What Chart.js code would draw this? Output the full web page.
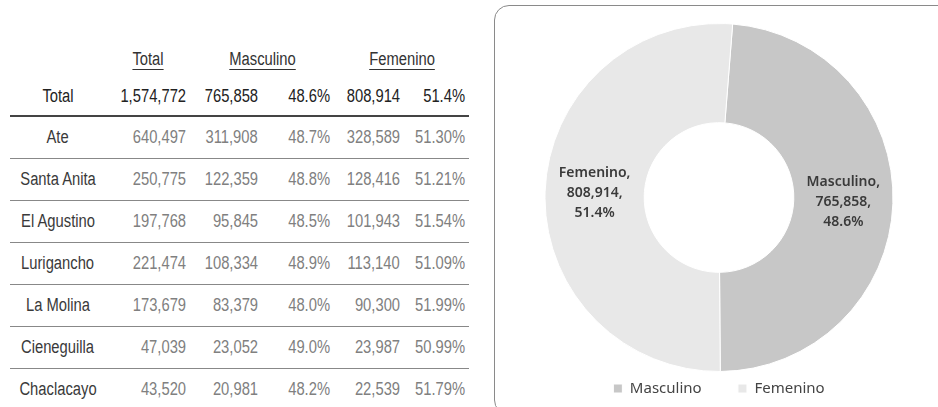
<!DOCTYPE html>
<html>
<head>
<meta charset="utf-8">
<script src="https://cdn.jsdelivr.net/npm/chart.js@4"></script>
<style>
  body { margin: 0; width: 938px; height: 407px; background: #fff; overflow: hidden; position: relative; }
  #tbl { position: absolute; left: 10px; top: 40px; border-collapse: collapse; table-layout: fixed;
         font-family: "Liberation Sans", Arial, sans-serif; font-size: 18px; color: #808080; }
  #tbl td { padding: 0 4px 0 0; text-align: right; white-space: nowrap; }
  #tbl td span { display: inline-block; transform: scaleX(0.82); transform-origin: right center; }
  #tbl td.lbl { text-align: center; color: #3a3a3a; padding: 0; }
  #tbl td.lbl span { transform-origin: center center; }
  #tbl tr.head td { height: 38px; text-align: center; color: #333; padding: 0; }
  #tbl tr.head span { transform-origin: center center; text-decoration: underline; text-underline-offset: 4px; }
  #tbl tr.total td { height: 37px; color: #222; border-bottom: 2px solid #444; }
  #tbl tr.row td { height: 41px; border-bottom: 1px solid #888; }
  #tbl tr.row:last-child td { border-bottom: none; }
  #box { position: absolute; left: 494px; top: 5px; width: 460px; height: 410px;
         border: 1.5px solid #8a8a8a; border-radius: 15px; box-sizing: border-box; }
  #wrap { position: absolute; left: 496px; top: 6px; width: 446px; height: 400px; }
</style>
</head>
<body>
<table id="tbl">
  <colgroup>
    <col style="width:96px"><col style="width:74px"><col style="width:72px">
    <col style="width:72px"><col style="width:70px"><col style="width:65px">
  </colgroup>
  <tbody id="tbody"></tbody>
</table>
<div id="box"></div>
<div id="wrap"><canvas id="donut"></canvas></div>
<script>
// --- table data ---
const districts = ["Ate", "Santa Anita", "El Agustino", "Lurigancho", "La Molina", "Cieneguilla", "Chaclacayo"];
const totals = ["640,497", "250,775", "197,768", "221,474", "173,679", "47,039", "43,520"];
const mascVals = ["311,908", "122,359", "95,845", "108,334", "83,379", "23,052", "20,981"];
const mascPcts = ["48.7%", "48.8%", "48.5%", "48.9%", "48.0%", "49.0%", "48.2%"];
const femVals = ["328,589", "128,416", "101,943", "113,140", "90,300", "23,987", "22,539"];
const femPcts = ["51.30%", "51.21%", "51.54%", "51.09%", "51.99%", "50.99%", "51.79%"];
const totalRow = ["Total", "1,574,772", "765,858", "48.6%", "808,914", "51.4%"];

// --- chart data ---
const categories = ["Masculino", "Femenino"];
const values = [765858, 808914];
const percents = ["48.6%", "51.4%"];
const colors = ["#c7c7c7", "#e8e8e8"];

const cell = (v, cls) => '<td' + (cls ? ' class="' + cls + '"' : '') + '><span>' + v + '</span></td>';

const tbody = document.getElementById("tbody");
let html = '<tr class="head"><td></td><td><span>Total</span></td>' +
  '<td colspan="2"><span>Masculino</span></td><td colspan="2"><span>Femenino</span></td></tr>';
html += '<tr class="total">' + cell(totalRow[0], "lbl") + totalRow.slice(1).map(v => cell(v)).join('') + '</tr>';
districts.forEach((d, i) => {
  html += '<tr class="row">' + cell(d, "lbl") + cell(totals[i]) + cell(mascVals[i]) + cell(mascPcts[i]) +
    cell(femVals[i]) + cell(femPcts[i]) + '</tr>';
});
tbody.innerHTML = html;

// draws "Name, value, pct" inside each slice
const sliceLabels = {
  id: "sliceLabels",
  afterDatasetsDraw(chart) {
    const ctx = chart.ctx;
    const meta = chart.getDatasetMeta(0);
    ctx.save();
    ctx.font = "600 14px 'Noto Sans', sans-serif";
    ctx.fillStyle = "#3a3a3a";
    ctx.textAlign = "center";
    ctx.textBaseline = "middle";
    meta.data.forEach((arc, i) => {
      const p = arc.tooltipPosition();
      const lines = [categories[i] + ",", values[i].toLocaleString("en-US") + ",", percents[i]];
      lines.forEach((t, k) => ctx.fillText(t, p.x, p.y + (k - 1) * 20));
    });
    ctx.restore();
  }
};

new Chart(document.getElementById("donut"), {
  type: "doughnut",
  data: {
    labels: categories,
    datasets: [{
      data: values,
      backgroundColor: colors,
      borderColor: "#ffffff",
      borderWidth: 1
    }]
  },
  options: {
    responsive: true,
    maintainAspectRatio: false,
    animation: false,
    rotation: 4.5,
    cutout: "43%",
    layout: { padding: { top: 17, bottom: 0, left: 0, right: 0 } },
    plugins: {
      legend: {
        position: "bottom",
        labels: {
          color: "#444",
          font: { family: "'Noto Sans', sans-serif", size: 15 },
          boxWidth: 9,
          boxHeight: 9,
          padding: 9,
          // widen the gap between the two entries
          generateLabels(chart) {
            const items = Chart.overrides.doughnut.plugins.legend.labels.generateLabels(chart);
            items[0].text = items[0].text + "       ";
            return items;
          }
        }
      },
      tooltip: { enabled: false }
    }
  },
  plugins: [sliceLabels]
});
</script>
</body>
</html>
